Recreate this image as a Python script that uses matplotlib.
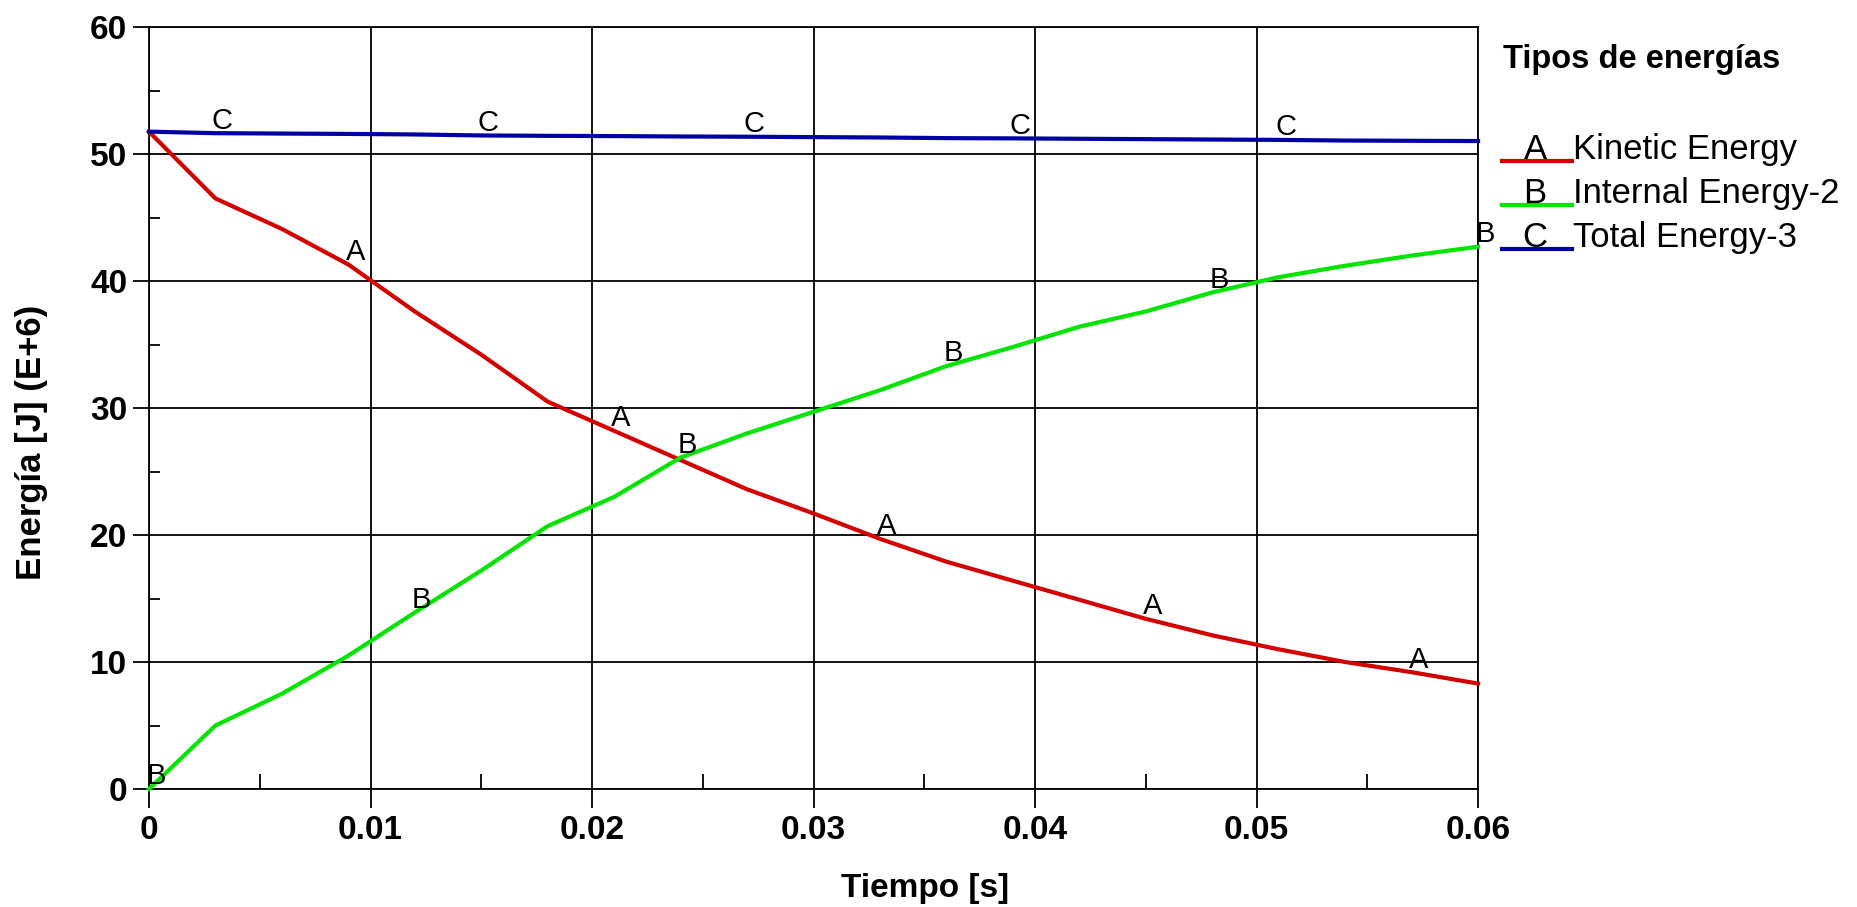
import matplotlib
matplotlib.use("Agg")
import matplotlib.pyplot as plt
from matplotlib.lines import Line2D
from matplotlib.ticker import MultipleLocator

# ---------------- data ----------------
time_s = [0.000, 0.003, 0.006, 0.009, 0.012, 0.015, 0.018, 0.021, 0.024, 0.027,
          0.030, 0.033, 0.036, 0.039, 0.042, 0.045, 0.048, 0.051, 0.054, 0.057, 0.060]
kinetic = [51.76, 46.5, 44.1, 41.3, 37.6, 34.2, 30.5, 28.2, 25.9, 23.6,
           21.7, 19.7, 17.9, 16.4, 14.9, 13.4, 12.1, 11.0, 10.0, 9.2, 8.3]
internal = [0.0, 5.0, 7.5, 10.5, 13.9, 17.2, 20.7, 23.0, 26.1, 28.0,
            29.7, 31.4, 33.3, 34.8, 36.4, 37.6, 39.1, 40.3, 41.2, 42.0, 42.7]
total = [51.76, 51.64, 51.61, 51.58, 51.54, 51.46, 51.43, 51.41, 51.38, 51.36,
         51.33, 51.30, 51.25, 51.23, 51.20, 51.17, 51.14, 51.11, 51.06, 51.04, 51.02]

series_names = ["Kinetic Energy", "Internal Energy-2", "Total Energy-3"]
series_letters = ["A", "B", "C"]
legend_title = "Tipos de energías"
x_label = "Tiempo [s]"
y_label = "Energía [J] (E+6)"
x_ticks = [0.0, 0.01, 0.02, 0.03, 0.04, 0.05, 0.06]
x_ticklabels = ["0", "0.01", "0.02", "0.03", "0.04", "0.05", "0.06"]
y_ticks = [0, 10, 20, 30, 40, 50, 60]
y_ticklabels = ["0", "10", "20", "30", "40", "50", "60"]

# indices of the points where the curve letters are written
letter_idx = {"A": [3, 7, 11, 15, 19], "B": [0, 4, 8, 12, 16, 20], "C": [1, 5, 9, 13, 17]}

colors = ["#d40000", "#00e400", "#0000a4"]

NARROW = ["Liberation Sans Narrow", "Liberation Sans", "DejaVu Sans"]
REG = ["Liberation Sans", "DejaVu Sans"]

W, H = 1857, 907
fig = plt.figure(figsize=(W / 100, H / 100), dpi=100)
ax = fig.add_axes([149 / W, 1 - 789 / H, (1478 - 149) / W, (789 - 27) / H])

ys = [kinetic, internal, total]
for y, c, z in zip(ys, colors, [3, 3, 3]):
    ax.plot(time_s, y, color=c, lw=3.0, solid_joinstyle="miter", zorder=z, clip_on=False)

for y, letter in zip(ys, series_letters):
    for i in letter_idx[letter]:
        ax.annotate(letter, (time_s[i], y[i]), xytext=(5, -1), textcoords="offset points",
                    ha="center", va="bottom", fontsize=21, family=NARROW,
                    color="black", zorder=5, annotation_clip=False)

ax.set_xlim(0, 0.06)
ax.set_ylim(0, 60)
ax.set_xticks(x_ticks)
ax.set_xticklabels(x_ticklabels)
ax.set_yticks(y_ticks)
ax.set_yticklabels(y_ticklabels)
ax.xaxis.set_minor_locator(MultipleLocator(0.005))
ax.yaxis.set_minor_locator(MultipleLocator(5))
ax.grid(True, which="major", color="black", lw=1.3)
ax.set_axisbelow(True)
for s in ax.spines.values():
    s.set_color("black")
    s.set_linewidth(1.3)
ax.tick_params(axis="y", which="major", direction="out", length=11.5, width=1.3, pad=4)
ax.tick_params(axis="y", which="minor", direction="in", length=8, width=1.3)
ax.tick_params(axis="x", which="major", direction="out", length=13.5, width=1.3, pad=5)
ax.tick_params(axis="x", which="minor", direction="in", length=11, width=1.3)
for lab in ax.get_xticklabels() + ax.get_yticklabels():
    lab.set_fontfamily(NARROW)
    lab.set_fontweight("bold")
    lab.set_fontsize(24)

fig.text(925 / W, 1 - 888 / H, x_label, ha="center", va="center",
         fontsize=24, fontweight="bold", family=REG)
fig.text(32 / W, 1 - 442 / H, y_label, ha="center", va="center", rotation=90,
         fontsize=25, fontweight="bold", family=REG)

# legend (drawn by hand, as in the original chart)
fig.text(1503 / W, 1 - 68 / H, legend_title, ha="left", va="baseline",
         fontsize=23.5, fontweight="bold", family=REG)
for k, (name, letter, c) in enumerate(zip(series_names, series_letters, colors)):
    yb = 159 + 44 * k
    fig.add_artist(Line2D([1502 / W, 1572 / W], [1 - (yb + 2) / H] * 2,
                          transform=fig.transFigure, color=c, lw=3.0))
    fig.text(1535 / W, 1 - yb / H, letter, ha="center", va="baseline",
             fontsize=25, family=REG)
    fig.text(1573 / W, 1 - yb / H, name, ha="left", va="baseline",
             fontsize=25, family=REG)

fig.savefig("out.png", dpi=100, facecolor="white")
